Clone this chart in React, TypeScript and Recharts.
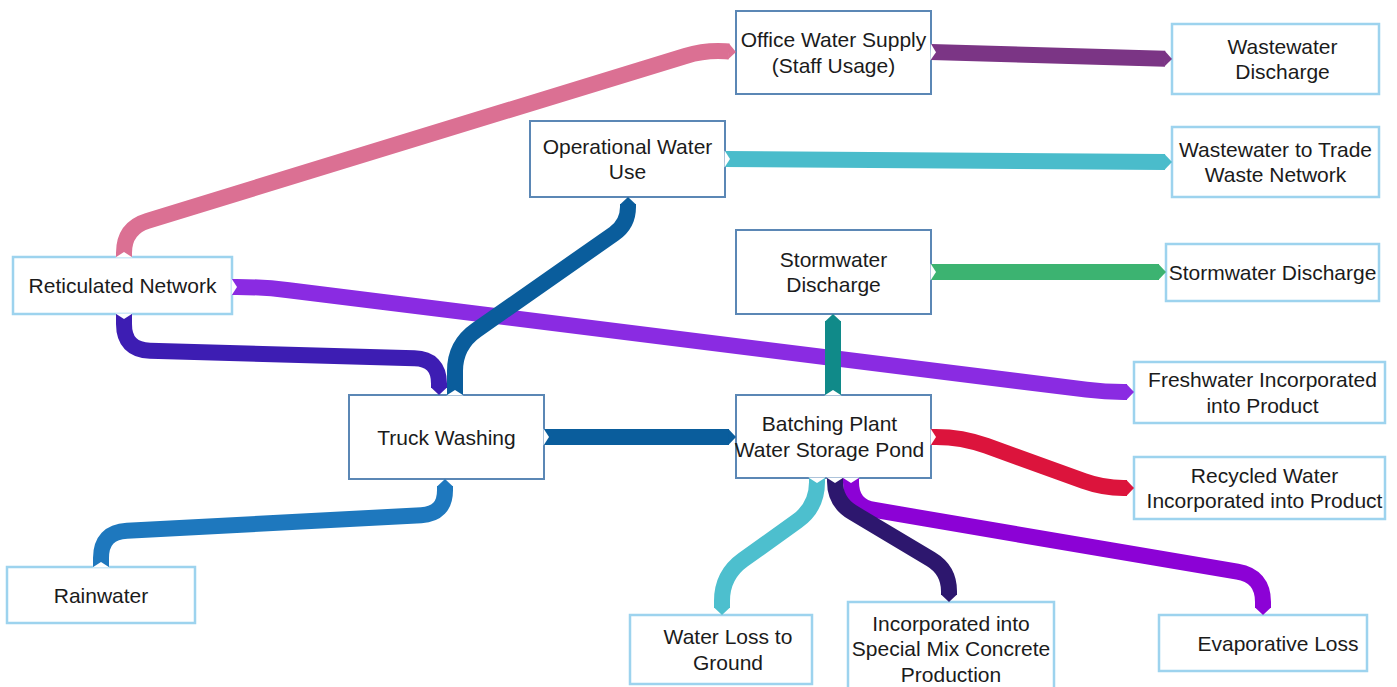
import React from 'react';
import { ComposedChart, Line, XAxis, YAxis, ReferenceArea } from 'recharts';

// ---------- diagram data (coordinates in diagram units: x right, y down) ----------
const nodes = [
  { id: 'office', lines: ['Office Water Supply', '(Staff Usage)'], x1: 736, y1: 11, x2: 931, y2: 94, inner: true },
  { id: 'wwDischarge', lines: ['Wastewater', 'Discharge'], x1: 1172, y1: 24, x2: 1379, y2: 94, inner: false },
  { id: 'operational', lines: ['Operational Water', 'Use'], x1: 530, y1: 121, x2: 725, y2: 197, inner: true },
  { id: 'tradeWaste', lines: ['Wastewater to Trade', 'Waste Network'], x1: 1172, y1: 127, x2: 1379, y2: 197, inner: false },
  { id: 'stormMid', lines: ['Stormwater', 'Discharge'], x1: 736, y1: 230, x2: 931, y2: 314, inner: true },
  { id: 'stormOut', lines: ['Stormwater Discharge'], x1: 1166, y1: 244, x2: 1379, y2: 301, inner: false },
  { id: 'reticulated', lines: ['Reticulated Network'], x1: 13, y1: 257, x2: 232, y2: 314, inner: false },
  { id: 'freshwater', lines: ['Freshwater Incorporated', 'into Product'], x1: 1134, y1: 362, x2: 1385, y2: 423, inner: false },
  { id: 'truck', lines: ['Truck Washing'], x1: 349, y1: 395, x2: 544, y2: 479, inner: true },
  { id: 'batching', lines: ['Batching Plant', 'Water Storage Pond'], x1: 736, y1: 395, x2: 931, y2: 478, inner: true },
  { id: 'recycled', lines: ['Recycled Water', 'Incorporated into Product'], x1: 1134, y1: 457, x2: 1385, y2: 519, inner: false },
  { id: 'rain', lines: ['Rainwater'], x1: 7, y1: 567, x2: 195, y2: 623, inner: false },
  { id: 'loss', lines: ['Water Loss to', 'Ground'], x1: 630, y1: 615, x2: 812, y2: 684, inner: false },
  { id: 'specialMix', lines: ['Incorporated into', 'Special Mix Concrete', 'Production'], x1: 848, y1: 602, x2: 1054, y2: 695, inner: false },
  { id: 'evap', lines: ['Evaporative Loss'], x1: 1159, y1: 615, x2: 1367, y2: 671, inner: false },
];

// label nudges (text not exactly centred in some boxes)
const labelNudge: Record<string, number> = {
  wwDischarge: 7,
  evap: 15,
  loss: 7,
  batching: -4,
  recycled: 5,
  freshwater: 3,
};

// flows: drawn in this order (first = bottom)
const flows = [
  { from: 'reticulated', to: 'freshwater', color: '#8A2BE2', points: [[232, 287], [263, 287], [1105, 392], [1134, 392]] },
  { from: 'batching', to: 'evap', color: '#8C02D6', points: [[851, 478], [851, 506], [1263, 576], [1263, 615]] },
  { from: 'batching', to: 'specialMix', color: '#2D176E', points: [[835, 478], [835, 502], [949, 570], [949, 602]] },
  { from: 'batching', to: 'loss', color: '#4DBFCE', points: [[817, 478], [817, 507], [722, 575], [722, 615]] },
  { from: 'reticulated', to: 'office', color: '#DB7093', points: [[124, 257], [124, 228], [705, 50], [736, 52]] },
  { from: 'reticulated', to: 'truck', color: '#3D1DB3', points: [[124, 314], [124, 350], [439, 359], [439, 395]] },
  { from: 'truck', to: 'operational', color: '#0A5D9C', points: [[455, 395], [455, 345], [628, 224], [628, 197]] },
  { from: 'truck', to: 'batching', color: '#0A5D9C', points: [[544, 437], [736, 437]] },
  { from: 'rain', to: 'truck', color: '#1E78BE', points: [[101, 567], [101, 532], [445, 514], [445, 479]] },
  { from: 'batching', to: 'stormMid', color: '#108A89', points: [[833, 395], [833, 314]] },
  { from: 'stormMid', to: 'stormOut', color: '#3CB371', points: [[931, 272], [1166, 272]] },
  { from: 'office', to: 'wwDischarge', color: '#7B3585', points: [[931, 52], [1172, 59]] },
  { from: 'operational', to: 'tradeWaste', color: '#4ABCCB', points: [[725, 159], [1172, 162]] },
  { from: 'batching', to: 'recycled', color: '#DC143C', points: [[931, 437], [962, 437], [1103, 488], [1134, 488]] },
];

const W = 1397;
const H = 687;
const RIBBON = 16;
const TIP = 7;
const NOTCH = 5;
const BEND = 26;
const FONT = '"Liberation Sans", Arial, Helvetica, sans-serif';

// custom d3-style curve: polyline with rounded corners, end shortened for arrow tip
function roundedCurve(context: any) {
  let pts: number[][] = [];
  return {
    areaStart() {},
    areaEnd() {},
    lineStart() {
      pts = [];
    },
    point(x: number, y: number) {
      pts.push([x, y]);
    },
    lineEnd() {
      const n = pts.length;
      if (n < 2) return;
      const p = pts.map((q) => [q[0], q[1]]);
      const a = p[n - 2];
      const b = p[n - 1];
      const L = Math.hypot(b[0] - a[0], b[1] - a[1]);
      if (L > TIP) {
        p[n - 1] = [b[0] - ((b[0] - a[0]) / L) * TIP, b[1] - ((b[1] - a[1]) / L) * TIP];
      }
      context.moveTo(p[0][0], p[0][1]);
      for (let i = 1; i < n - 1; i++) {
        const pr = p[i - 1];
        const c = p[i];
        const nx = p[i + 1];
        const l1 = Math.hypot(c[0] - pr[0], c[1] - pr[1]);
        const l2 = Math.hypot(nx[0] - c[0], nx[1] - c[1]);
        const lim1 = i === 1 ? l1 * 0.85 : l1 / 2;
        const lim2 = i === n - 2 ? l2 * 0.85 : l2 / 2;
        const rr = Math.min(BEND, lim1, lim2);
        const s = [c[0] - ((c[0] - pr[0]) / l1) * rr, c[1] - ((c[1] - pr[1]) / l1) * rr];
        const e = [c[0] + ((nx[0] - c[0]) / l2) * rr, c[1] + ((nx[1] - c[1]) / l2) * rr];
        context.lineTo(s[0], s[1]);
        context.quadraticCurveTo(c[0], c[1], e[0], e[1]);
      }
      context.lineTo(p[n - 1][0], p[n - 1][1]);
    },
  };
}

const makeEnds = (flow: any) => (props: any) => {
  const { cx, cy, index } = props;
  const pts = flow.points;
  const n = pts.length;
  if (cx == null || cy == null) return <g key={`e-${index}`} />;
  if (index === 0) {
    const dx0 = pts[1][0] - pts[0][0];
    const dy0 = pts[1][1] - pts[0][1];
    const l = Math.hypot(dx0, dy0);
    const ux = dx0 / l;
    const uy = dy0 / l;
    const nx = -uy;
    const ny = ux;
    const h = RIBBON / 2 + 0.6;
    const pts2 = [
      [cx + nx * h - ux * 0.5, cy + ny * h - uy * 0.5],
      [cx + ux * NOTCH, cy + uy * NOTCH],
      [cx - nx * h - ux * 0.5, cy - ny * h - uy * 0.5],
    ];
    return <polygon key={`e-${index}`} points={pts2.map((q) => q.join(',')).join(' ')} fill="#ffffff" />;
  }
  if (index === n - 1) {
    const dx0 = pts[n - 1][0] - pts[n - 2][0];
    const dy0 = pts[n - 1][1] - pts[n - 2][1];
    const l = Math.hypot(dx0, dy0);
    const ux = dx0 / l;
    const uy = dy0 / l;
    const nx = -uy;
    const ny = ux;
    const h = RIBBON / 2;
    const bx = cx - ux * (TIP + 0.6);
    const by = cy - uy * (TIP + 0.6);
    const pts2 = [
      [bx + nx * h, by + ny * h],
      [cx, cy],
      [bx - nx * h, by - ny * h],
    ];
    return <polygon key={`e-${index}`} points={pts2.map((q) => q.join(',')).join(' ')} fill={flow.color} />;
  }
  return <g key={`e-${index}`} />;
};

const makeLabel = (node: any) => (props: any) => {
  const vb = props.viewBox || { x: 0, y: 0, width: 0, height: 0 };
  const cx = vb.x + vb.width / 2 + (labelNudge[node.id] || 0);
  const cy = vb.y + vb.height / 2;
  const n = node.lines.length;
  const lh = 25.5;
  return (
    <text textAnchor="middle" fontFamily={FONT} fontSize={21} fill="#1b1b1b">
      {node.lines.map((t: string, i: number) => (
        <tspan key={i} x={cx} y={cy + (i - (n - 1) / 2) * lh + 7.5}>
          {t}
        </tspan>
      ))}
    </text>
  );
};

export default function App() {
  return (
    <div style={{ position: 'absolute', left: 0, top: 0, width: W, height: H, background: '#ffffff' }}>
      <ComposedChart width={W} height={H} margin={{ top: 0, right: 0, bottom: 0, left: 0 }}>
        <XAxis dataKey="x" type="number" domain={[0, W]} allowDataOverflow hide />
        <YAxis type="number" domain={[0, H]} reversed allowDataOverflow hide />
        {flows.map((f, i) => (
          <Line
            key={`flow-${i}`}
            data={f.points.map((p) => ({ x: p[0], y: p[1] }))}
            dataKey="y"
            type={roundedCurve as any}
            stroke={f.color}
            strokeWidth={RIBBON}
            strokeLinecap="butt"
            strokeLinejoin="round"
            fill="none"
            dot={makeEnds(f) as any}
            activeDot={false}
            legendType="none"
            isAnimationActive={false}
          />
        ))}
        {nodes.map((n) => (
          <ReferenceArea
            key={n.id}
            x1={n.x1}
            x2={n.x2}
            y1={n.y1}
            y2={n.y2}
            fill="#ffffff"
            fillOpacity={1}
            stroke={n.inner ? '#5B87B5' : '#9DD3EE'}
            strokeWidth={n.inner ? 2 : 2.5}
            ifOverflow="visible"
            label={makeLabel(n)}
          />
        ))}
      </ComposedChart>
    </div>
  );
}
